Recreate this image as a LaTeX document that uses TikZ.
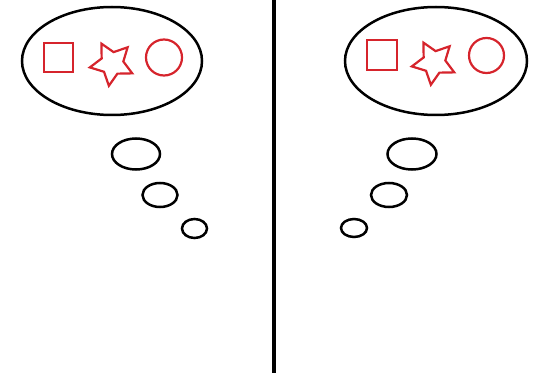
\documentclass[tikz,border=0pt]{standalone}
\definecolor{shapered}{RGB}{214,36,44}
\tikzset{
  bubble/.style={draw=black,line width=2.5pt},
  redshape/.style={draw=shapered,line width=2.2pt,line join=miter},
  divider/.style={draw=black,line width=4.5pt}
}
\begin{document}
\begin{tikzpicture}[x=1pt,y=-1pt]
\useasboundingbox (0,0) rectangle (538,377);
% divider
\coordinate (dtop) at (274,0);
\coordinate (dbot) at (274,373);
\draw[divider] (dtop) -- (dbot);
% left panel
\draw[bubble] (112,61) ellipse [x radius=90, y radius=54];
\draw[redshape] (44,43) rectangle (73,72);
\draw[redshape] (164,57.5) circle [radius=18];
\draw[bubble] (136,154) ellipse [x radius=24, y radius=15.5];
\draw[bubble] (160,195) ellipse [x radius=17.5, y radius=12];
\draw[bubble] (194.5,228.5) ellipse [x radius=12.5, y radius=9.5];
% right panel
\draw[bubble] (436,61) ellipse [x radius=91, y radius=54];
\draw[redshape] (367,40) rectangle (397,70);
\draw[redshape] (486.5,55.5) circle [radius=17.5];
\draw[bubble] (412,154) ellipse [x radius=24.5, y radius=15.5];
\draw[bubble] (389,195) ellipse [x radius=18, y radius=12];
\draw[bubble] (354,228) ellipse [x radius=13, y radius=9];
% stars
\foreach \cx/\cy in {112/63.5, 434/62.5}{
  \draw[redshape]
    ({\cx+22.5*cos(46)},{\cy-22.5*sin(46)})
    \foreach \k in {1,...,9}{
      -- ({\cx+(mod(\k,2)==0?22.5:11.5)*cos(46+36*\k)},{\cy-(mod(\k,2)==0?22.5:11.5)*sin(46+36*\k)})
    } -- cycle;
}
\end{tikzpicture}
\end{document}
